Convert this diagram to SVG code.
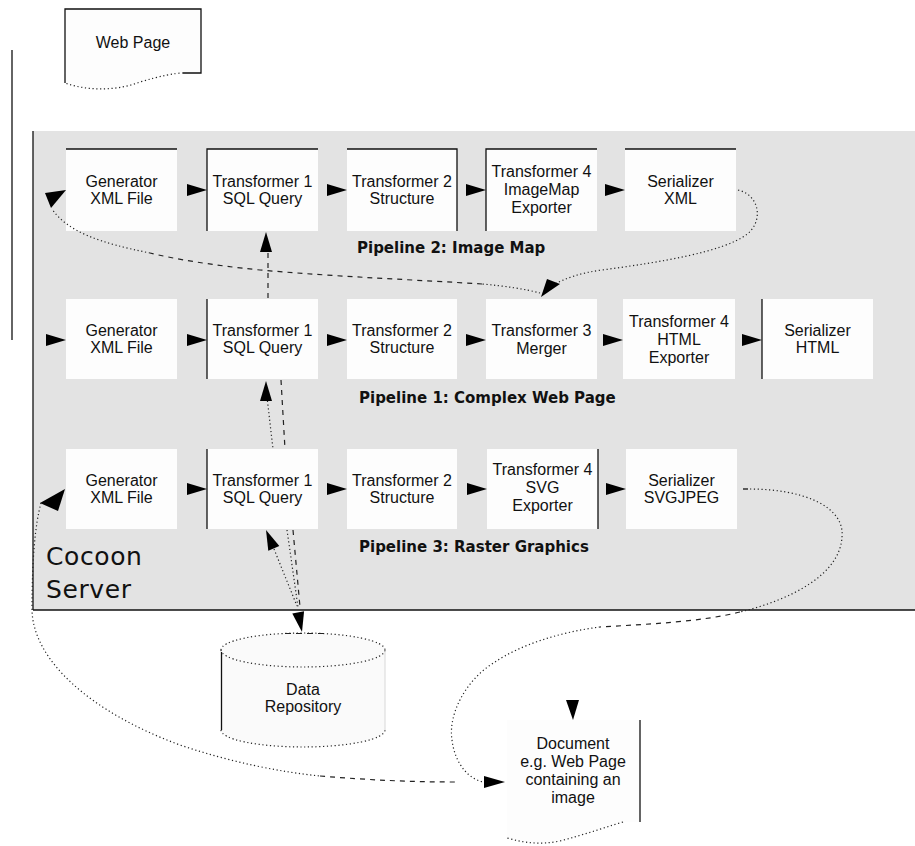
<svg xmlns="http://www.w3.org/2000/svg" xmlns:xlink="http://www.w3.org/1999/xlink" width="915" height="846" viewBox="0 0 915 846">
<style>
.lbl{font-family:"Liberation Sans",Arial,sans-serif;font-size:16px;text-anchor:middle;fill:#111}
.ttl{font-family:"DejaVu Sans",Verdana,sans-serif;font-size:15px;font-weight:bold;fill:#111}
.big{font-family:"DejaVu Sans",Verdana,sans-serif;font-size:25px;fill:#111;letter-spacing:0.6px}
.box{fill:#fdfdfd}
.edge{stroke:#111;stroke-width:1.3;fill:none}
.dot{stroke:#222;stroke-width:1.2;fill:none;stroke-dasharray:1.2 2.6}
.dash{stroke:#222;stroke-width:1.2;fill:none;stroke-dasharray:5 5}
.ah{fill:#000}
</style>
<defs>
<path id="ah" d="M0,0 L-20,-6 L-20,6 Z"/>
</defs>
<rect width="915" height="846" fill="#ffffff"/>

<g id="cocoon-server">
<rect x="33" y="131" width="882" height="479" fill="#e3e3e3"/>
<line class="edge" x1="33" y1="131" x2="33" y2="610"/>
<line class="edge" x1="33" y1="610" x2="915" y2="610"/>
<text class="big" x="46" y="565">Cocoon</text>
<text class="big" x="46" y="598">Server</text>
</g>

<g id="web-page">
<path class="box" d="M65,9 L201,9 L201,73 L183,73 C175,73 160,76 140,82 C120,90 90,92 65,83 Z" fill="#fff"/>
<path class="edge" d="M65,83 L65,9 L201,9 L201,73 L183,73"/>
<path class="dot" d="M183,73 C175,73 160,76 140,82 C120,90 90,92 65,83"/>
<text class="lbl" x="133" y="48">Web Page</text>
</g>

<g id="labels">
<text class="ttl" x="357" y="253">Pipeline 2: Image Map</text>
<text class="ttl" x="359" y="403">Pipeline 1: Complex Web Page</text>
<text class="ttl" x="359" y="552">Pipeline 3: Raster Graphics</text>
</g>

<!-- Pipeline 2 -->
<g id="p2-generator">
<rect class="box" x="66" y="149" width="111" height="82"/>
<line class="edge" x1="66" y1="149" x2="177" y2="149"/>
<text class="lbl" x="121.5" y="187">Generator</text>
<text class="lbl" x="121.5" y="204">XML File</text>
</g>
<g id="p2-transformer1">
<rect class="box" x="207" y="149" width="111" height="82"/>
<path class="edge" d="M207,231 L207,149 L318,149"/>
<text class="lbl" x="262.5" y="187">Transformer 1</text>
<text class="lbl" x="262.5" y="204">SQL Query</text>
</g>
<g id="p2-transformer2">
<rect class="box" x="347" y="149" width="110" height="82"/>
<path class="edge" d="M347,149 L457,149 L457,231"/>
<text class="lbl" x="402" y="187">Transformer 2</text>
<text class="lbl" x="402" y="204">Structure</text>
</g>
<g id="p2-transformer4">
<rect class="box" x="486" y="149" width="111" height="82"/>
<path class="edge" d="M486,231 L486,149 L597,149"/>
<text class="lbl" x="541.5" y="177">Transformer 4</text>
<text class="lbl" x="541.5" y="195">ImageMap</text>
<text class="lbl" x="541.5" y="213">Exporter</text>
</g>
<g id="p2-serializer">
<rect class="box" x="625" y="149" width="111" height="82"/>
<line class="edge" x1="625" y1="149" x2="736" y2="149"/>
<text class="lbl" x="680.5" y="187">Serializer</text>
<text class="lbl" x="680.5" y="204">XML</text>
</g>

<!-- Pipeline 1 -->
<g id="p1-generator">
<rect class="box" x="66" y="299" width="111" height="80"/>
<text class="lbl" x="121.5" y="336">Generator</text>
<text class="lbl" x="121.5" y="353">XML File</text>
</g>
<g id="p1-transformer1">
<rect class="box" x="207" y="299" width="111" height="80"/>
<line class="edge" x1="207" y1="299" x2="207" y2="379"/>
<text class="lbl" x="262.5" y="336">Transformer 1</text>
<text class="lbl" x="262.5" y="353">SQL Query</text>
</g>
<g id="p1-transformer2">
<rect class="box" x="347" y="299" width="110" height="80"/>
<text class="lbl" x="402" y="336">Transformer 2</text>
<text class="lbl" x="402" y="353">Structure</text>
</g>
<g id="p1-transformer3">
<rect class="box" x="486" y="299" width="111" height="80"/>
<text class="lbl" x="541.5" y="336">Transformer 3</text>
<text class="lbl" x="541.5" y="354">Merger</text>
</g>
<g id="p1-transformer4">
<rect class="box" x="623" y="299" width="112" height="80"/>
<text class="lbl" x="679" y="327">Transformer 4</text>
<text class="lbl" x="679" y="345">HTML</text>
<text class="lbl" x="679" y="363">Exporter</text>
</g>
<g id="p1-serializer">
<rect class="box" x="762" y="299" width="111" height="80"/>
<line class="edge" x1="762" y1="299" x2="762" y2="379"/>
<text class="lbl" x="817.5" y="336">Serializer</text>
<text class="lbl" x="817.5" y="353">HTML</text>
</g>

<!-- Pipeline 3 -->
<g id="p3-generator">
<rect class="box" x="66" y="449" width="111" height="80"/>
<text class="lbl" x="121.5" y="486">Generator</text>
<text class="lbl" x="121.5" y="503">XML File</text>
</g>
<g id="p3-transformer1">
<rect class="box" x="207" y="449" width="111" height="80"/>
<line class="edge" x1="207" y1="449" x2="207" y2="529"/>
<text class="lbl" x="262.5" y="486">Transformer 1</text>
<text class="lbl" x="262.5" y="503">SQL Query</text>
</g>
<g id="p3-transformer2">
<rect class="box" x="347" y="449" width="110" height="80"/>
<text class="lbl" x="402" y="486">Transformer 2</text>
<text class="lbl" x="402" y="503">Structure</text>
</g>
<g id="p3-transformer4">
<rect class="box" x="487" y="449" width="111" height="80"/>
<line class="edge" x1="598" y1="449" x2="598" y2="529"/>
<text class="lbl" x="542.5" y="475">Transformer 4</text>
<text class="lbl" x="542.5" y="493">SVG</text>
<text class="lbl" x="542.5" y="511">Exporter</text>
</g>
<g id="p3-serializer">
<rect class="box" x="626" y="449" width="111" height="80"/>
<text class="lbl" x="681.5" y="486">Serializer</text>
<text class="lbl" x="681.5" y="503">SVGJPEG</text>
</g>

<g id="data-repository">
<path d="M221,650 L221,730 A82,17 0 0 0 385,730 L385,650 A82,17 0 0 0 221,650 Z" fill="#fafafa"/>
<path class="dot" d="M221,650 A82,17 0 0 1 385,650"/>
<path d="M285,633.5 L325,633.5" stroke="#222" stroke-width="1.2" stroke-dasharray="6 5"/>
<path class="dot" d="M221,650 A82,17 0 0 0 385,650"/>
<path class="dot" d="M221,730 A82,17 0 0 0 385,730"/>
<line class="edge" x1="221.5" y1="652" x2="221.5" y2="730"/>
<line x1="385" y1="652" x2="385" y2="730" stroke="#d8d8d8" stroke-width="1"/>
<text class="lbl" x="303" y="695">Data</text>
<text class="lbl" x="303" y="712">Repository</text>
</g>

<g id="document">
<path d="M507,720 L640,720 L640,822 L623,822 C600,829 583,835 560,841 C540,845 525,843 507,838 Z" fill="#fdfdfd"/>
<line class="edge" x1="640" y1="720" x2="640" y2="822"/>
<path class="dot" d="M623,822 C600,829 583,835 560,841 C540,845 525,843 507,838"/>
<text class="lbl" x="573" y="749">Document</text>
<text class="lbl" x="573" y="767">e.g. Web Page</text>
<text class="lbl" x="573" y="785">containing an</text>
<text class="lbl" x="573" y="803">image</text>
</g>

<g id="connectors">
<!-- web page to pipeline 1 -->
<line class="edge" x1="12" y1="50" x2="12" y2="340"/>
<use href="#ah" class="ah" transform="translate(66,340)"/>
<!-- pipeline 2 flow -->
<use href="#ah" class="ah" transform="translate(207,190)"/>
<use href="#ah" class="ah" transform="translate(347,190)"/>
<use href="#ah" class="ah" transform="translate(486,190)"/>
<use href="#ah" class="ah" transform="translate(625,190)"/>
<!-- pipeline 1 flow -->
<use href="#ah" class="ah" transform="translate(207,340)"/>
<use href="#ah" class="ah" transform="translate(347,340)"/>
<use href="#ah" class="ah" transform="translate(486,340)"/>
<use href="#ah" class="ah" transform="translate(623,340)"/>
<use href="#ah" class="ah" transform="translate(762,340)"/>
<!-- pipeline 3 flow -->
<use href="#ah" class="ah" transform="translate(207,489)"/>
<use href="#ah" class="ah" transform="translate(347,489)"/>
<use href="#ah" class="ah" transform="translate(487,489)"/>
<use href="#ah" class="ah" transform="translate(626,489)"/>

<!-- serializer XML to merger -->
<path class="dot" d="M738,190 C760,195 764,222 746,235 C722,252 662,262 602,270 C580,273 566,278 553,285"/>
<polygon class="ah" points="547,279 560,284 541,297"/>
<!-- merger to pipeline 2 generator -->
<path class="dot" d="M540,293 C525,289 505,286 482,284"/>
<path class="dash" d="M482,284 C420,280 340,277 260,270 C210,265 175,259 150,253"/>
<path class="dot" d="M150,253 C100,243 68,232 52,209"/>
<polygon class="ah" points="45,193 66,190 51,208"/>

<!-- SQL queries to data repository -->
<line class="dash" x1="268" y1="253" x2="268" y2="299"/>
<use href="#ah" class="ah" transform="translate(266,232) rotate(-90)"/>
<line class="dot" x1="267" y1="397" x2="273" y2="449"/>
<line class="dash" x1="281" y1="380" x2="285" y2="449"/>
<use href="#ah" class="ah" transform="translate(266,381) rotate(-90)"/>
<line class="dot" x1="287" y1="530" x2="298" y2="607"/>
<line class="dash" x1="293" y1="530" x2="300" y2="607"/>
<line class="dot" x1="274" y1="549" x2="297" y2="606"/>
<use href="#ah" class="ah" transform="translate(266,530) rotate(-113)"/>
<use href="#ah" class="ah" transform="translate(302,632) rotate(79)"/>

<!-- SVGJPEG serializer to document -->
<line class="edge" x1="743" y1="489" x2="748" y2="489"/>
<path class="dot" d="M750,489 C800,489 845,505 842,537 C840,575 790,600 740,612"/>
<path class="dash" d="M740,612 C700,622 650,624 600,627"/>
<path class="dot" d="M600,627 C560,632 520,645 495,662 C465,680 448,715 452,740 C455,765 470,780 484,782"/>
<polygon class="ah" points="484,776 505,782 484,788"/>
<polygon class="ah" points="566,700 579,700 573,720"/>

<!-- document request to pipeline 3 generator -->
<path class="dot" d="M41,503 C35,525 32,560 32,610 C33,660 90,712 180,745 C230,762 280,772 320,776"/>
<path class="dash" d="M320,776 C370,780 410,782 455,782"/>
<polygon class="ah" points="40,503 65,489 58,511"/>
</g>
</svg>
